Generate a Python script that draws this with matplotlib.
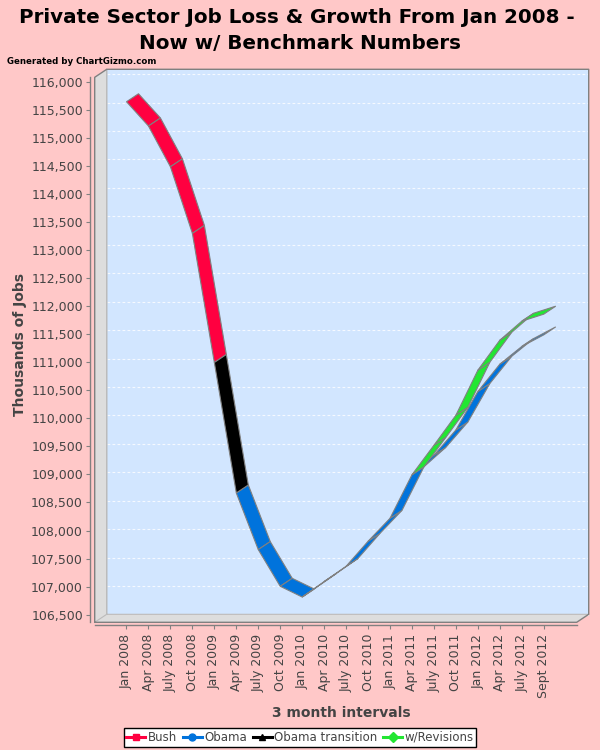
import matplotlib
matplotlib.use("Agg")
import matplotlib.pyplot as plt
from matplotlib.lines import Line2D
from matplotlib.patches import Polygon
from matplotlib.ticker import FuncFormatter

# categories (3 month intervals)
labels = ["Jan 2008", "Apr 2008", "July 2008", "Oct 2008", "Jan 2009", "Apr 2009",
          "July 2009", "Oct 2009", "Jan 2010", "Apr 2010", "July 2010", "Oct 2010",
          "Jan 2011", "Apr 2011", "July 2011", "Oct 2011", "Jan 2012", "Apr 2012",
          "July 2012", "Sept 2012"]

# thousands of jobs, None where a series has no value
bush = [115648, 115215, 114488, 113300, 110997] + [None] * 15
obama = [None] * 5 + [108670, 107660, 107005, 106814, 107089, 107362, 107808, 108218,
                      108995, 109343, 109794, 110480, 110967, 111283, 111490]
transition = [None] * 4 + [110997, 108670] + [None] * 14
revisions = [None] * 13 + [108995, 109521, 110057, 110860, 111395, 111734, 111859]

series = [
    ("Bush", bush, "#FF0040", "s"),
    ("Obama", obama, "#0073DC", "o"),
    ("Obama transition", transition, "#000000", "^"),
    ("w/Revisions", revisions, "#22E632", "D"),
]

W, H = 600, 750
BG = "#FFC8C8"
WALL = "#D2E6FF"
SIDE = "#DDDDDD"
EDGE = "#808080"
TXT = "#444444"

# chart box in pixels (front face and 3d depth)
fx0, fx1, fy0, fy1 = 94.7, 576.7, 77.3, 622.3
DX, DY = 12, 8


def fx(x):
    return x / W


def fy(y):
    return 1 - y / H


fig = plt.figure(figsize=(W / 100, H / 100), dpi=100, facecolor=BG)

# walls
back = Polygon([(fx(fx0 + DX), fy(fy0 - DY)), (fx(fx1 + DX), fy(fy0 - DY)),
                (fx(fx1 + DX), fy(fy1 - DY)), (fx(fx0 + DX), fy(fy1 - DY))],
               closed=True, transform=fig.transFigure, facecolor=WALL, edgecolor="none", zorder=-3)
left = Polygon([(fx(fx0), fy(fy1)), (fx(fx0), fy(fy0)), (fx(fx0 + DX), fy(fy0 - DY)),
                (fx(fx0 + DX), fy(fy1 - DY))],
               closed=True, transform=fig.transFigure, facecolor=SIDE, edgecolor="none", zorder=-3)
floor = Polygon([(fx(fx0), fy(fy1)), (fx(fx0 + DX), fy(fy1 - DY)), (fx(fx1 + DX), fy(fy1 - DY)),
                 (fx(fx1), fy(fy1))],
                closed=True, transform=fig.transFigure, facecolor=SIDE, edgecolor="none", zorder=-1)
fig.patches.extend([back, left, floor])

inner = Line2D([fx(fx0), fx(fx0 + DX), fx(fx0 + DX), fx(fx0 + DX), fx(fx1 + DX)],
               [fy(fy1), fy(fy1 - DY), fy(fy0 - DY), fy(fy1 - DY), fy(fy1 - DY)],
               transform=fig.transFigure, color="#BBBBBB", lw=0.8, zorder=-0.5)
outline = Line2D([fx(fx0), fx(fx0), fx(fx0 + DX), fx(fx1 + DX), fx(fx1 + DX), fx(fx1), fx(fx0)],
                 [fy(fy1), fy(fy0), fy(fy0 - DY), fy(fy0 - DY), fy(fy1 - DY), fy(fy1), fy(fy1)],
                 transform=fig.transFigure, color=EDGE, lw=1, zorder=-0.5)
fig.lines.extend([inner, outline])

ylo, yhi = 106363, 116084
xlo, xhi = -1.448, 20.5
yticks = list(range(106500, 116001, 500))

# gridlines on the back wall
axg = fig.add_axes([fx(fx0 + DX), fy(fy1), (fx1 - fx0) / W, (fy1 - fy0 + DY) / H])
axg.set_axis_off()
axg.set_ylim(ylo, yhi)
axg.set_zorder(-2)
for v in yticks:
    axg.axhline(v, color="white", lw=0.8, ls=(0, (2.5, 2)), alpha=0.8)

# main (front face) axes
ax = fig.add_axes([fx(fx0), fy(fy1), (fx1 - fx0) / W, (fy1 - fy0) / H])
ax.set_facecolor("none")
ax.set_xlim(xlo, xhi)
ax.set_ylim(ylo, yhi)

for side in ("top", "right"):
    ax.spines[side].set_visible(False)
ax.spines["left"].set_position(("outward", 3.4))
ax.spines["bottom"].set_position(("outward", 2.2))
for side in ("left", "bottom"):
    ax.spines[side].set_color(EDGE)
    ax.spines[side].set_linewidth(1)

ax.set_yticks(yticks)
ax.yaxis.set_major_formatter(FuncFormatter(lambda v, p: f"{v:,.0f}"))
ax.set_xticks(range(len(labels)))
ax.set_xticklabels(labels, rotation=90)
ax.tick_params(axis="both", colors=EDGE, labelcolor=TXT, labelsize=9, length=3)
ax.tick_params(axis="y", pad=2)
ax.tick_params(axis="x", pad=3)


def to_back(x, y):
    px, py = ax.transData.transform((x, y))
    return tuple(ax.transData.inverted().transform((px + DX, py + DY)))


for name, vals, color, marker in series:
    for i in range(len(vals) - 1):
        a, b = vals[i], vals[i + 1]
        if a is None or b is None:
            continue
        quad = [(i, a), (i + 1, b), to_back(i + 1, b), to_back(i, a)]
        ax.add_patch(Polygon(quad, closed=True, facecolor=color, edgecolor=EDGE,
                             lw=0.8, joinstyle="miter", clip_on=False))

# texts
fig.text(0.494, fy(23), "Private Sector Job Loss & Growth From Jan 2008 -", ha="center",
         va="baseline", fontsize=14.3, fontweight="bold", color="black")
fig.text(0.5, fy(49), "Now w/ Benchmark Numbers", ha="center", va="baseline",
         fontsize=14.3, fontweight="bold", color="black")
fig.text(fx(7), fy(63.5), "Generated by ChartGizmo.com", ha="left", va="baseline",
         fontsize=6.2, fontweight="bold", color="black")
fig.text(fx(20), fy(345), "Thousands of Jobs", rotation=90, ha="center", va="center",
         fontsize=10, fontweight="bold", color=TXT)
fig.text(fx(341), fy(713), "3 month intervals", ha="center", va="center",
         fontsize=10, fontweight="bold", color=TXT)

handles = [Line2D([], [], color=c, marker=m, markersize=5, lw=2.2, label=n)
           for n, _, c, m in series]
leg = fig.legend(handles=handles, loc="center", bbox_to_anchor=(0.5, fy(737.5)), ncol=4,
                 fontsize=8.5, frameon=True, fancybox=False, handlelength=1.6,
                 handletextpad=0.2, columnspacing=0.5, borderpad=0.25, borderaxespad=0)
leg.get_frame().set_edgecolor("black")
leg.get_frame().set_linewidth(1)
leg.get_frame().set_facecolor("white")
leg.get_frame().set_alpha(1)
for t in leg.get_texts():
    t.set_color(TXT)

fig.savefig("out.png", dpi=100, facecolor=BG)
